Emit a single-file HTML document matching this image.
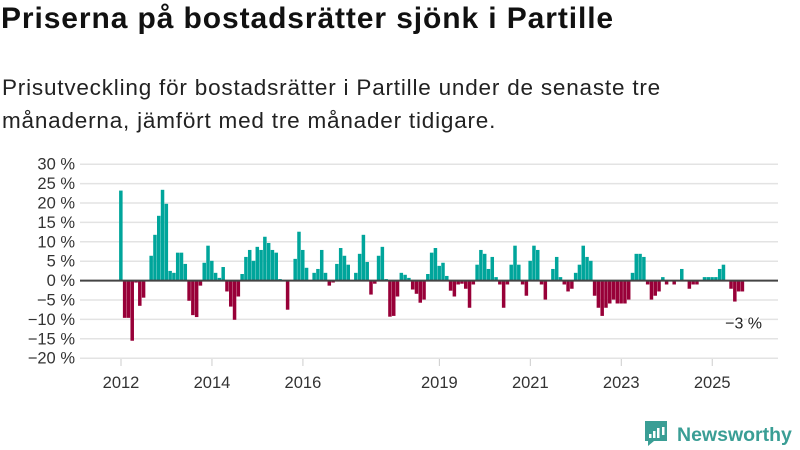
<!DOCTYPE html>
<html><head><meta charset="utf-8">
<style>
body{margin:0;background:#fff;font-family:"Liberation Sans",sans-serif;}
#wrap{position:relative;width:800px;height:450px;overflow:hidden;}
h1{position:absolute;left:1px;top:2px;margin:0;font-size:30px;font-weight:bold;color:#111;letter-spacing:0.9px;white-space:nowrap;}
p{position:absolute;left:2px;top:71px;margin:0;font-size:22.5px;line-height:33px;color:#222;white-space:nowrap;letter-spacing:0.8px;}
</style></head><body>
<div id="wrap">
<h1>Priserna på bostadsrätter sjönk i Partille</h1>
<p>Prisutveckling för bostadsrätter i Partille under de senaste tre<br>månaderna, jämfört med tre månader tidigare.</p>
<svg id="chart" width="800" height="450" style="position:absolute;left:0;top:0"></svg>
</div>
<script>
const values = [23.2,-9.6,-9.6,-15.5,-0.5,-6.5,-4.4,0,6.4,11.8,16.7,23.4,19.8,2.5,2.0,7.2,7.2,4.3,-5.2,-8.9,-9.4,-1.3,4.6,9.0,5.1,2.0,0.7,3.5,-2.8,-6.7,-10.1,-4.1,1.7,6.1,7.9,5.1,8.7,7.9,11.3,9.7,7.9,7.2,0.4,0,-7.5,0,5.6,12.6,7.9,3.3,0,2.0,3.0,7.9,2.0,-1.3,-0.5,4.3,8.4,6.4,4.1,0,2.0,6.9,11.8,4.8,-3.6,-0.8,6.4,8.7,0.4,-9.3,-9.1,-4.1,2.0,1.5,0.7,-2.3,-3.4,-5.7,-4.9,1.7,7.2,8.4,3.8,4.6,1.2,-2.6,-4.1,-1.0,-0.8,-2.1,-7.0,-1.0,4.1,7.9,6.9,3.0,6.1,0.9,-1.0,-7.0,-1.0,4.1,9.0,4.1,-1.0,-3.9,5.1,9.0,7.9,-1.0,-4.9,0,3.0,6.1,0.9,-1.0,-2.8,-2.1,2.0,4.1,9.0,6.1,5.1,-3.9,-7.0,-9.1,-7.0,-5.9,-4.9,-5.9,-5.9,-5.9,-4.9,2.0,6.9,6.9,6.1,-1.0,-4.9,-3.9,-2.8,0.9,-1.0,0,-1.0,0,3.0,0,-2.1,-1.0,-1.0,0,0.9,0.9,0.9,0.9,3.0,4.1,0,-2.1,-5.4,-2.8,-2.8];
const yTicks = [30,25,20,15,10,5,0,-5,-10,-15,-20];
const xTickLabels = ["2012","2014","2016","2019","2021","2023","2025"];
const xTickMonths = [0,24,48,84,108,132,156];
const lastLabel = "−3 %";

const NS="http://www.w3.org/2000/svg";
const svg=document.getElementById('chart');
const x=m=>121+3.79*m;
const y=v=>280.6-v*3.88;
function mk(t,a){const e=document.createElementNS(NS,t);for(const k in a)e.setAttribute(k,a[k]);svg.appendChild(e);return e;}
yTicks.forEach(v=>{
  const l=mk('line',{x1:80,x2:778,y1:y(v),y2:y(v),stroke:'#e3e3e3','stroke-width':1.5});
  
  
  const t=mk('text',{x:75,y:y(v)+5.5,'text-anchor':'end','font-size':16.5,fill:'#333'});
  t.textContent=(v<0?'−'+(-v):v)+' %';
  
  
});
values.forEach((v,i)=>{
  const top=v>=0?y(v):y(0), h=Math.abs(y(v)-y(0));
  const r=mk('rect',{x:x(i)-1.9,y:top,width:3.5,height:h,fill:v>=0?'#00a59b':'#980038'});
  
  
});
const z=mk('line',{x1:80,x2:778,y1:y(0),y2:y(0),stroke:'#444','stroke-width':2});


xTickLabels.forEach((lab,i)=>{
  const m=xTickMonths[i];
  const tk=mk('line',{x1:x(m),x2:x(m),y1:359,y2:366,stroke:'#ccc','stroke-width':1});
  
  
  const t=mk('text',{x:x(m),y:388,'text-anchor':'middle','font-size':16.5,fill:'#333'});
  t.textContent=lab;
  
  
});
const last=values.length-1;
const lt=mk('text',{x:x(last)+1,y:y(values[last])+37,'text-anchor':'middle','font-size':16,fill:'#222',stroke:'#fff','stroke-width':3,'paint-order':'stroke'});
lt.textContent=lastLabel;


const g=mk('g',{});


const ic=document.createElementNS(NS,'path');
ic.setAttribute('d','M645 421h22v20h-13l-6 5v-5h-3z');
ic.setAttribute('fill','#3a9e95');
g.appendChild(ic);
[[649,434,2.5,4],[653,431,2.5,7],[657,428,2.5,10],[662,427,2.5,8]].forEach(b=>{
  const r=document.createElementNS(NS,'rect');
  r.setAttribute('x',b[0]);r.setAttribute('y',b[1]);r.setAttribute('width',b[2]);r.setAttribute('height',b[3]);r.setAttribute('fill','#fff');
  g.appendChild(r);
});
const lt2=document.createElementNS(NS,'text');
lt2.setAttribute('x',677);lt2.setAttribute('y',441);lt2.setAttribute('font-size',19.5);lt2.setAttribute('font-weight','bold');lt2.setAttribute('fill','#3a9e95');
lt2.textContent='Newsworthy';
g.appendChild(lt2);
</script>
</body></html>
